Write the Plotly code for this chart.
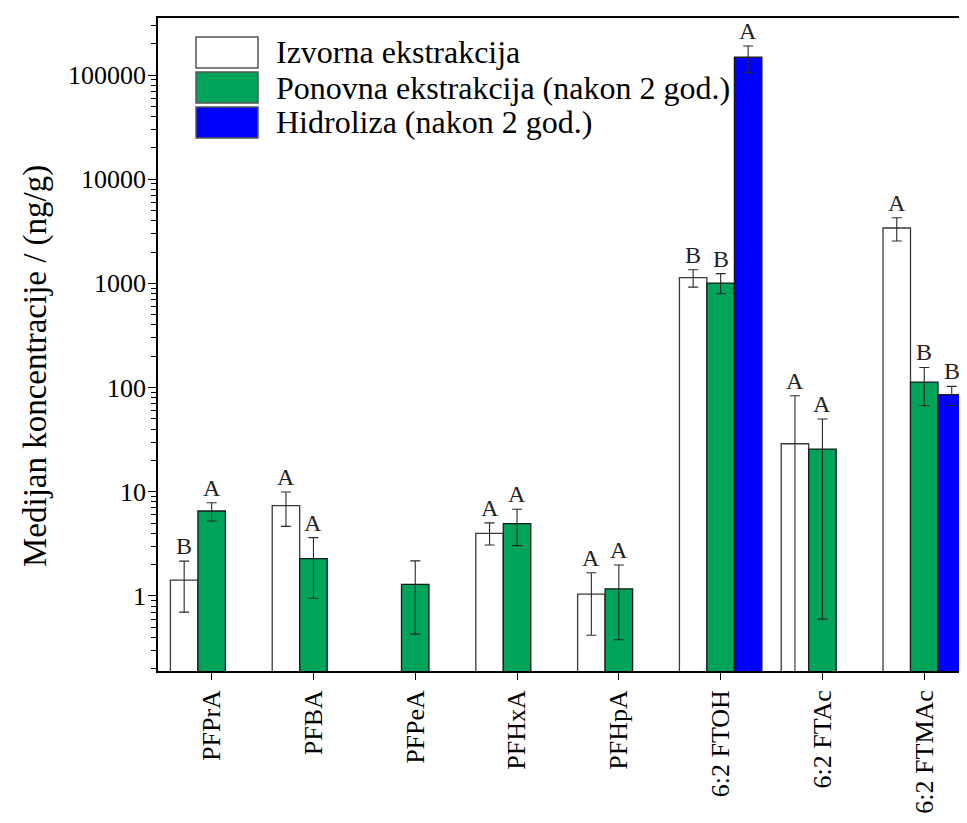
import numpy as np
import plotly.graph_objects as go

categories = ["PFPrA", "PFBA", "PFPeA", "PFHxA", "PFHpA", "6:2 FTOH", "6:2 FTAc", "6:2 FTMAc"]
series_names = ["Izvorna ekstrakcija", "Ponovna ekstrakcija (nakon 2 god.)", "Hidroliza (nakon 2 god.)"]

izvorna = [1.42, 7.36, None, 3.99, 1.04, 1135, 28.9, 3400]
izvorna_err_plus = [0.74, 2.6, None, 1.04, 0.63, 215, 54.5, 870]
izvorna_err_minus = [0.72, 2.7, None, 0.9, 0.62, 215, 28.8, 850]

ponovna = [6.54, 2.28, 1.29, 4.94, 1.17, 1007, 25.7, 113]
ponovna_err_plus = [1.32, 1.35, 0.88, 1.85, 0.81, 233, 24.2, 43]
ponovna_err_minus = [1.29, 1.33, 0.86, 1.9, 0.79, 211, 25.1, 46]

hidroliza = [None, None, None, None, None, 148000, None, 85.7]
hidroliza_err_plus = [None, None, None, None, None, 42000, None, 17]
hidroliza_err_minus = [None, None, None, None, None, 42000, None, 18.5]

letters_izvorna = ["B", "A", "", "A", "A", "B", "A", "A"]
letters_ponovna = ["A", "A", "", "A", "A", "B", "A", "B"]
letters_hidroliza = ["", "", "", "", "", "A", "", "B"]

y_tick_vals = [1, 10, 100, 1000, 10000, 100000]
y_tick_text = ["1", "10", "100", "1000", "10000", "100000"]
y_title = "Medijan koncentracije / (ng/g)"

FONT = "Liberation Serif, Tinos, Times New Roman, serif"
colors = ["#FFFFFF", "#00A35A", "#0000FF"]
line_colors = ["#3a3a3a", "#1a1a1a", "#1a1a1a"]
bargap = 0.19
Y_RANGE = [-0.72, 5.547]

# page has an 8px body margin; compensate so the plot area lands where the reference has it
OFF = 8
W, H = 967 - OFF, 823 - 2 * OFF
L, R, T = 158 - OFF, 0, 18 - OFF
B = H - (671 - OFF)


def arr(v):
    return [np.nan if x is None else x for x in v]


series = [
    (izvorna, izvorna_err_plus, izvorna_err_minus, letters_izvorna),
    (ponovna, ponovna_err_plus, ponovna_err_minus, letters_ponovna),
    (hidroliza, hidroliza_err_plus, hidroliza_err_minus, letters_hidroliza),
]

fig = go.Figure()
for k, (vals, ep, em, _) in enumerate(series):
    fig.add_trace(go.Bar(
        x=categories, y=arr(vals), name=series_names[k],
        marker=dict(color=colors[k], line=dict(color=line_colors[k], width=1.3)),
        error_y=dict(type="data", symmetric=False, array=arr(ep), arrayminus=arr(em),
                     color="#2a2a2a", thickness=1.1, width=5),
        showlegend=False,
    ))
# invisible helper trace so the overlay axis (long decade ticks) is drawn
fig.add_trace(go.Scatter(x=[categories[0]], y=[1], yaxis="y2", mode="markers",
                         marker=dict(opacity=0), showlegend=False, hoverinfo="skip"))

annotations = []
bw = (1 - bargap) / 3
for k, (vals, ep, em, letters) in enumerate(series):
    for i, lab in enumerate(letters):
        if not lab or vals[i] is None:
            continue
        annotations.append(dict(
            x=i + (k - 1) * bw, y=np.log10(vals[i] + ep[i]), xref="x", yref="y",
            text=lab, showarrow=False, yanchor="bottom", yshift=0,
            font=dict(family=FONT, size=24, color="#222"),
        ))

# custom legend with large swatches (coordinates in screen pixels)
pw, ph = W - L - R, H - T - B
def px_x(x): return (x - OFF - L) / pw
def px_y(y): return 1 - (y - OFF - T) / ph

shapes = []
box_tops = [37, 72, 107]
for k in range(3):
    y0, y1 = box_tops[k], box_tops[k] + 31
    shapes.append(dict(type="rect", xref="paper", yref="paper",
                       x0=px_x(196), x1=px_x(258), y0=px_y(y1), y1=px_y(y0),
                       fillcolor=colors[k], line=dict(color="#555", width=1.5)))
    annotations.append(dict(x=px_x(274), y=px_y((y0 + y1) / 2), xref="paper", yref="paper",
                            text=series_names[k], showarrow=False, xanchor="left", yanchor="middle",
                            font=dict(family=FONT, size=32, color="black")))

annotations.append(dict(x=px_x(35), y=px_y(366), xref="paper", yref="paper", text=y_title,
                        textangle=-90, showarrow=False, xanchor="center", yanchor="middle",
                        font=dict(family=FONT, size=33, color="black")))

# all log ticks (1..9 x 10^k); labels only at decades
all_ticks, all_text = [], []
for e in range(-1, 6):
    for m in range(1, 10):
        v = m * 10.0 ** e
        if 10 ** Y_RANGE[0] <= v <= 10 ** Y_RANGE[1]:
            all_ticks.append(v)
            all_text.append(y_tick_text[y_tick_vals.index(v)] if v in y_tick_vals else "")

fig.update_layout(
    width=W, height=H, margin=dict(l=L, r=R, t=T, b=B),
    paper_bgcolor="white", plot_bgcolor="white",
    barmode="group", bargap=bargap, bargroupgap=0,
    font=dict(family=FONT, color="black"),
    shapes=shapes, annotations=annotations,
    yaxis2=dict(type="log", range=Y_RANGE, overlaying="y", side="left",
                tickvals=y_tick_vals, showticklabels=False, ticks="outside", ticklen=9,
                tickcolor="black", tickwidth=1.3, showline=False, showgrid=False, zeroline=False),
)
fig.update_xaxes(
    type="category", range=[-0.527, 7.42],
    showline=True, linecolor="black", linewidth=1.5, mirror=True,
    ticks="outside", ticklen=7, tickcolor="black", tickwidth=1.3,
    tickangle=-90, tickfont=dict(family=FONT, size=26, color="black"),
    showgrid=False, zeroline=False,
)
fig.update_yaxes(
    selector=dict(anchor=None), overwrite=False,
)
fig.layout.yaxis.update(
    type="log", range=Y_RANGE,
    tickvals=all_ticks, ticktext=all_text,
    showline=True, linecolor="black", linewidth=1.5, mirror=False,
    ticks="outside", ticklen=5, tickcolor="black", tickwidth=1,
    tickfont=dict(family=FONT, size=26, color="black"),
    showgrid=False, zeroline=False,
)

fig.write_html("out.html")
